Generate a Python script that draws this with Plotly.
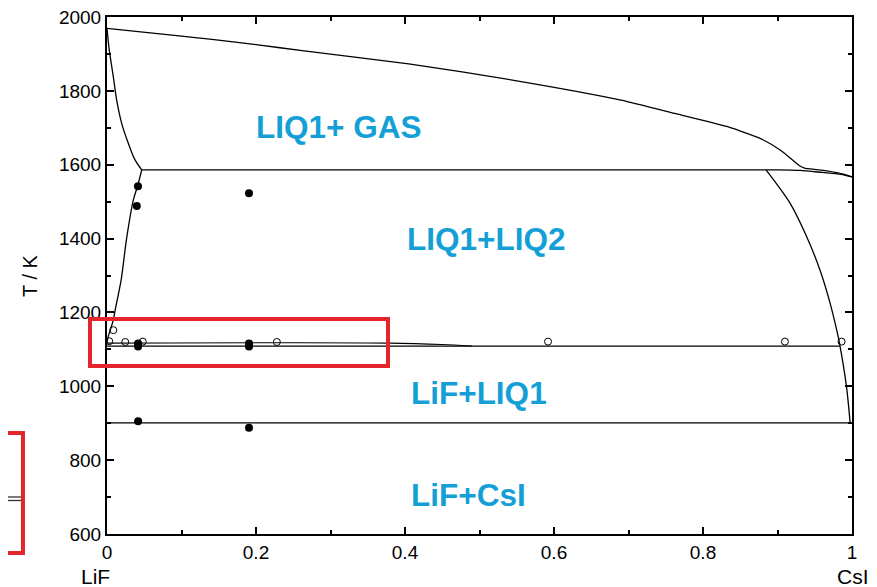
import plotly.graph_objects as go

# ---------------- data ----------------
# gas / liquid boundary (top curve)
gas_x = [0, 0.10, 0.138, 0.20, 0.262, 0.405, 0.548, 0.690, 0.762, 0.833, 0.881, 0.905, 0.929, 0.937]
gas_T = [1969, 1948, 1940, 1925, 1909, 1873, 1828, 1775, 1739, 1703, 1667, 1638, 1598, 1590]
gas_end_x = [0.937, 0.966, 0.99, 1.0]
gas_end_T = [1590, 1583.5, 1574, 1567]

# LIQ2 boundary on the LiF side
liq2_up_x = [0, 0.003, 0.0085, 0.013, 0.0197, 0.0286, 0.0376, 0.0466]
liq2_up_T = [1969, 1911, 1838, 1775, 1712, 1658, 1613, 1586]
liq2_lo_x = [0.0466, 0.041, 0.0353, 0.026, 0.019, 0.011, 0.0085, 0.004, 0.001, 0]
liq2_lo_T = [1586, 1542, 1504, 1396, 1288, 1207, 1180, 1150, 1130, 1116]

# three-phase line near 1590 K and its end toward CsI
tp_x = [0.0466, 0.90, 0.93, 0.96, 0.985, 1.0]
tp_T = [1586, 1586, 1584.5, 1579, 1574, 1567]

# LIQ1 boundary on the CsI side
liq1_x = [0.8846, 0.9168, 0.9392, 0.957, 0.9705, 0.9795, 0.9828, 0.9926, 0.9975]
liq1_T = [1586, 1496, 1405, 1315, 1226, 1152, 1121, 999, 901]

# monotectic lines and eutectic line
mono_lo_x = [0, 0.9838]
mono_lo_T = [1109, 1109]
mono_up_x = [0, 0.38, 0.45, 0.49]
mono_up_T = [1117, 1117, 1113, 1109]
eut_x = [0, 1]
eut_T = [901, 901]

# experimental points
filled_x = [0.0416, 0.040, 0.1906, 0.0417, 0.0417, 0.1906, 0.1906, 0.0418, 0.1906]
filled_T = [1542, 1488, 1523, 1116, 1108, 1116, 1108, 905, 888]
open_x = [0.0085, 0.003, 0.0245, 0.048, 0.228, 0.592, 0.910, 0.986, -0.003]
open_T = [1152, 1122, 1120, 1121, 1120, 1121, 1121, 1121, 914]

# region labels
reg_text = ["LIQ1+ GAS", "LIQ1+LIQ2", "LiF+LIQ1", "LiF+CsI"]
reg_x = [0.1967, 0.400, 0.405, 0.405]
reg_T = [1701, 1399, 982, 706]

xtick_vals = [0, 0.2, 0.4, 0.6, 0.8, 1.0]
xtick_text = ["0", "0.2", "0.4", "0.6", "0.8", "1"]
xminor_vals = [0.1, 0.3, 0.5, 0.7, 0.9]
ytick_vals = [600, 800, 1000, 1200, 1400, 1600, 1800, 2000]
yminor_vals = [700, 900, 1100, 1300, 1500, 1700, 1900]

FONT = "Arial, Liberation Sans, sans-serif"
BLUE = "#14a0d7"
RED = "#e3262b"

fig = go.Figure()

def add_line(x, y, shape="linear", width=1.3, smoothing=0.8):
    fig.add_trace(go.Scatter(x=x, y=y, mode="lines",
                             line=dict(color="black", width=width, shape=shape,
                                       smoothing=smoothing if shape == "spline" else None),
                             hoverinfo="skip", showlegend=False))

add_line(gas_x, gas_T, "spline", smoothing=0.6)
add_line(gas_end_x, gas_end_T, "spline")
add_line(liq2_up_x, liq2_up_T, "spline")
add_line(liq2_lo_x, liq2_lo_T, "spline")
add_line(tp_x, tp_T, "spline")
add_line(liq1_x, liq1_T, "spline")
add_line(mono_lo_x, mono_lo_T)
add_line(mono_up_x, mono_up_T, "spline", 1.1)
add_line(eut_x, eut_T)

fig.add_trace(go.Scatter(x=filled_x, y=filled_T, mode="markers",
                         marker=dict(symbol="circle", size=8, color="black"),
                         showlegend=False, hoverinfo="skip"))
fig.add_trace(go.Scatter(x=open_x, y=open_T, mode="markers", cliponaxis=False,
                         marker=dict(symbol="circle-open", size=7, color="black",
                                     line=dict(width=1, color="black")),
                         showlegend=False, hoverinfo="skip"))

for t, x, y in zip(reg_text, reg_x, reg_T):
    fig.add_annotation(x=x, y=y, xref="x", yref="y", text="<b>%s</b>" % t,
                       showarrow=False, xanchor="left", yanchor="middle",
                       font=dict(family=FONT, size=31.5, color=BLUE))

# axis annotations
fig.add_annotation(x=-0.1034, y=0.501, xref="paper", yref="paper", text="T / K",
                   textangle=-90, showarrow=False, xanchor="center", yanchor="middle",
                   font=dict(family=FONT, size=20, color="black"))
fig.add_annotation(x=-0.016, y=-0.083, xref="paper", yref="paper", text="LiF",
                   showarrow=False, xanchor="center", yanchor="middle",
                   font=dict(family=FONT, size=21, color="black"))
fig.add_annotation(x=1.001, y=-0.083, xref="paper", yref="paper", text="CsI",
                   showarrow=False, xanchor="center", yanchor="middle",
                   font=dict(family=FONT, size=21, color="black"))

# red highlight boxes
fig.add_shape(type="rect", xref="paper", yref="paper",
              x0=-0.0228, x1=0.3772, y0=0.325, y1=0.4159,
              line=dict(color=RED, width=4), fillcolor="rgba(0,0,0,0)")
fig.add_shape(type="rect", xref="paper", yref="paper",
              x0=-0.16, x1=-0.1128, y0=-0.0368, y1=0.1954,
              line=dict(color=RED, width=4), fillcolor="rgba(0,0,0,0)")
fig.add_shape(type="line", xref="paper", yref="paper",
              x0=-0.1436, x1=-0.1154, y0=0.0716, y1=0.0716,
              line=dict(color="#333333", width=1.3))
fig.add_shape(type="line", xref="paper", yref="paper",
              x0=-0.1436, x1=-0.1154, y0=0.0648, y1=0.0648,
              line=dict(color="#333333", width=1.3))

axis_common = dict(showline=True, linewidth=2, linecolor="black", mirror="ticks",
                   ticks="inside", ticklen=7, tickwidth=1.5, tickcolor="black",
                   showgrid=False, zeroline=False, automargin=False,
                   ticklabeloverflow="allow",
                   tickfont=dict(family=FONT, size=19, color="black"))

fig.update_xaxes(range=[0, 1], tickvals=xtick_vals, ticktext=xtick_text,
                 minor=dict(tickvals=xminor_vals, ticks="inside", ticklen=4,
                            tickwidth=1.5, tickcolor="black"),
                 **axis_common)
fig.update_yaxes(range=[600, 2000], tickvals=ytick_vals,
                 minor=dict(tickvals=yminor_vals, ticks="inside", ticklen=4,
                            tickwidth=1.5, tickcolor="black"),
                 **axis_common)

# the page adds an 8 px body margin, so the figure is 8 px smaller
fig.update_layout(width=869, height=579, autosize=False,
                  margin=dict(l=99, r=25, t=9, b=53, autoexpand=False),
                  paper_bgcolor="white", plot_bgcolor="white",
                  showlegend=False)

fig.write_html("out.html")
